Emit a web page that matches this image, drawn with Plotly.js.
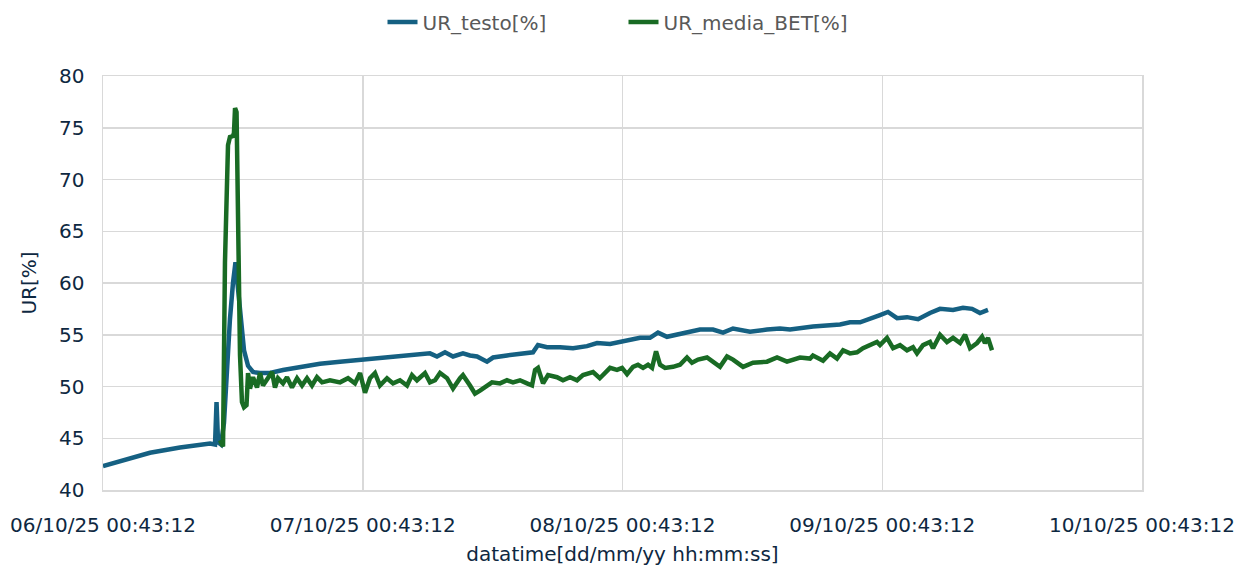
<!DOCTYPE html>
<html>
<head>
<meta charset="utf-8">
<script src="https://cdn.plot.ly/plotly-3.0.1.min.js"></script>
<style>html,body{margin:0;padding:0;background:#fff}#chart{width:1247px;height:567px}</style>
</head>
<body>
<div id="chart"></div>
<script>
// Hours elapsed since 06/10/25 00:43:12
var testoHours = [0.00,1.57,4.34,7.11,8.96,9.89,10.35,10.49,10.63,10.90,11.18,11.46,11.73,12.01,12.24,12.47,12.75,13.03,13.40,13.86,14.51,15.43,16.63,18.20,20.05,21.90,24.02,25.59,27.44,29.01,30.21,30.86,31.60,32.34,33.26,33.91,34.56,35.48,36.04,37.33,38.53,39.73,40.19,41.03,42.23,43.43,44.72,45.65,46.85,47.77,48.69,49.62,50.54,51.28,52.11,53.31,54.24,55.16,56.36,57.29,58.21,59.78,61.35,62.55,63.48,65.60,68.10,69.02,69.95,70.87,71.79,72.53,73.37,74.29,75.31,76.41,77.34,78.54,79.46,80.30,81.03,81.77];
var testoValues = [42.3,42.8,43.6,44.1,44.4,44.5,44.4,48.5,44.6,44.4,46.5,52.0,56.5,60.0,62.0,59.5,56.0,53.5,52.0,51.4,51.3,51.3,51.6,51.9,52.2,52.4,52.6,52.7,52.9,53.0,53.2,52.9,53.3,52.9,53.2,53.0,52.9,52.4,52.8,53.0,53.2,53.3,54.0,53.8,53.8,53.7,53.9,54.2,54.1,54.3,54.5,54.7,54.7,55.2,54.8,55.1,55.3,55.5,55.5,55.2,55.6,55.3,55.5,55.6,55.5,55.8,56.0,56.2,56.2,56.6,56.9,57.2,56.6,56.7,56.5,57.1,57.5,57.4,57.6,57.5,57.1,57.4];

var betHours = [10.81,11.09,11.27,11.41,11.55,11.73,12.01,12.10,12.20,12.34,12.47,12.66,12.84,13.03,13.26,13.40,13.58,13.86,14.23,14.51,14.78,15.25,15.62,15.89,16.17,16.63,17.00,17.46,17.93,18.39,18.85,19.31,19.77,20.24,20.97,21.90,22.64,23.28,23.75,24.21,24.67,25.13,25.59,26.24,26.80,27.44,28.09,28.55,29.01,29.75,30.21,30.68,31.14,31.79,32.34,32.99,33.26,33.91,34.37,34.83,35.48,35.94,36.68,37.33,37.88,38.53,39.18,39.64,39.92,40.19,40.66,41.12,41.95,42.50,43.15,43.80,44.35,45.28,45.90,46.37,46.85,47.49,47.96,48.42,48.97,49.43,49.90,50.36,50.73,51.10,51.47,51.93,52.67,53.31,53.96,54.42,54.98,55.81,56.36,57.01,57.66,58.21,59.14,60.06,61.35,62.28,63.20,64.40,65.33,65.60,66.53,67.17,67.82,68.38,69.02,69.67,70.22,70.87,71.51,71.79,72.44,73.00,73.64,74.29,74.84,75.21,75.77,76.41,76.69,77.34,77.98,78.54,79.19,79.65,80.11,80.76,81.22,81.49,81.77,82.14];
var betValues = [44.8,44.2,62.0,70.5,73.3,74.1,74.2,74.5,76.9,76.5,66.0,53.0,48.5,48.0,48.2,51.3,49.8,50.9,49.9,51.3,50.1,50.9,51.4,49.9,50.8,50.3,50.9,49.9,50.8,50.1,50.8,50.1,50.9,50.4,50.6,50.4,50.8,50.3,51.3,49.4,50.8,51.3,50.1,50.8,50.3,50.6,50.1,51.1,50.6,51.3,50.4,50.6,51.3,50.8,49.8,50.8,51.1,50.1,49.3,49.6,50.1,50.4,50.3,50.6,50.4,50.6,50.3,50.1,51.6,51.8,50.3,51.1,50.9,50.6,50.9,50.6,51.1,51.4,50.8,51.3,51.8,51.6,51.8,51.2,51.9,52.1,51.8,52.1,51.8,53.4,52.1,51.8,51.9,52.1,52.8,52.3,52.6,52.8,52.4,51.9,52.9,52.6,51.9,52.3,52.4,52.8,52.4,52.8,52.7,53.0,52.5,53.2,52.7,53.5,53.2,53.3,53.7,54.0,54.3,54.0,54.7,53.7,54.0,53.5,53.8,53.2,54.0,54.3,53.7,55.0,54.3,54.7,54.2,55.0,53.7,54.2,54.8,54.2,54.7,53.5];

var tickHours = [0,24,48,72,96];
var tickLabels = ["06/10/25 00:43:12","07/10/25 00:43:12","08/10/25 00:43:12","09/10/25 00:43:12","10/10/25 00:43:12"];
var yTicks = [40,45,50,55,60,65,70,75,80];

var FONT = "DejaVu Sans";
var TXT = "#0E2841";

var traces = [
  {x: testoHours, y: testoValues, name: "UR_testo[%]", type: "scatter", mode: "lines",
   line: {color: "#156082", width: 4.5}},
  {x: betHours, y: betValues, name: "UR_media_BET[%]", type: "scatter", mode: "lines",
   line: {color: "#196B24", width: 4.5}}
];

var layout = {
  width: 1247, height: 567,
  margin: {l: 103, r: 105, t: 76, b: 77, autoexpand: false},
  paper_bgcolor: "#ffffff", plot_bgcolor: "#ffffff",
  font: {family: FONT, color: TXT, size: 20},
  showlegend: true,
  legend: {orientation: "h", x: 0.5, xref: "container", xanchor: "center",
           y: 0.961, yref: "container", yanchor: "middle",
           font: {family: FONT, size: 20, color: "#595959"}, entrywidth: 196, tracegroupgap: 0},
  xaxis: {
    range: [0, 96], tickvals: tickHours, ticktext: tickLabels,
    showgrid: true, gridcolor: "#D9D9D9", gridwidth: 1.5,
    showline: true, linecolor: "#D9D9D9", linewidth: 1.5, mirror: true,
    zeroline: false, ticks: "", ticklabelstandoff: 16,
    tickfont: {family: FONT, size: 20, color: TXT},
    title: {text: "datatime[dd/mm/yy hh:mm:ss]", font: {family: FONT, size: 20, color: TXT}, standoff: 11}
  },
  yaxis: {
    range: [40, 80], tickvals: yTicks,
    showgrid: true, gridcolor: "#D9D9D9", gridwidth: 1.5,
    showline: true, linecolor: "#D9D9D9", linewidth: 1.5, mirror: true,
    zeroline: false, ticks: "", ticklabelstandoff: 13,
    tickfont: {family: FONT, size: 20, color: TXT},
    title: {text: "UR[%]", font: {family: FONT, size: 20, color: TXT}, standoff: 17}
  }
};

Plotly.newPlot("chart", traces, layout, {displayModeBar: false, staticPlot: true});
</script>
</body>
</html>
